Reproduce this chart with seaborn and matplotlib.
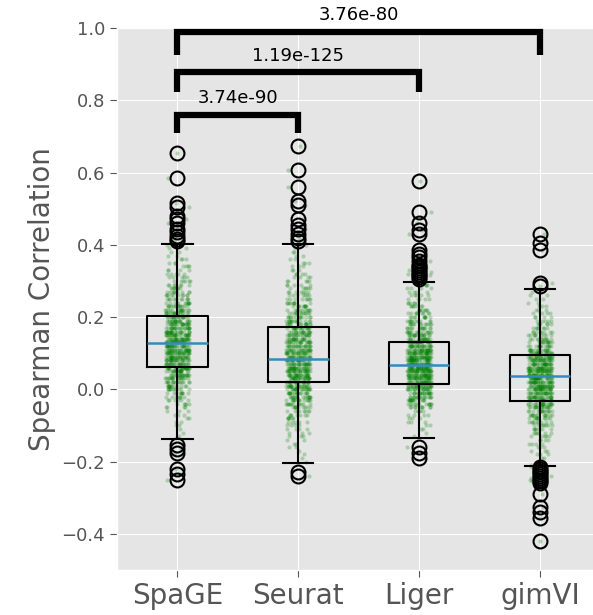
import numpy as np
import pandas as pd
import matplotlib
matplotlib.use("Agg")
import matplotlib.pyplot as plt
import seaborn as sns

# methods on the x axis
methods = ["SpaGE", "Seurat", "Liger", "gimVI"]

# box summaries
q1 = [0.061, 0.021, 0.015, -0.031]
med = [0.127, 0.085, 0.068, 0.037]
q3 = [0.202, 0.173, 0.132, 0.095]
whis_lo = [-0.137, -0.204, -0.134, -0.212]
whis_hi = [0.403, 0.403, 0.298, 0.279]

# outliers (circles)
fliers_spage = [0.655, 0.585, 0.515, 0.505, 0.48, 0.47, 0.46, 0.445, 0.435, 0.425,
                0.415, 0.41, -0.155, -0.165, -0.175, -0.22, -0.235, -0.25]
fliers_seurat = [0.672, 0.607, 0.56, 0.52, 0.51, 0.47, 0.455, 0.445, 0.43, 0.42,
                 0.41, -0.228, -0.24]
fliers_liger = [0.576, 0.49, 0.46, 0.44, 0.43, 0.385, 0.375, 0.365, 0.355, 0.345,
                0.34, 0.335, 0.33, 0.325, 0.32, 0.315, 0.31, 0.305,
                -0.16, -0.175, -0.19]
fliers_gimvi = [0.43, 0.405, 0.385, 0.295, 0.285, -0.215, -0.22, -0.225, -0.23,
                -0.235, -0.24, -0.245, -0.25, -0.255, -0.26, -0.29, -0.325,
                -0.34, -0.355, -0.42]

# estimated number of genes per 0.01 bin (non-outlier points), starting at bin_start
bin_start = [-0.13, -0.20, -0.13, -0.21]
counts_spage = [1, 1, 1, 2, 2, 2, 3, 3, 4, 5, 6, 7, 9, 11, 13, 15, 17, 19, 21, 23,
                25, 26, 27, 28, 28, 28, 28, 27, 26, 25, 23, 22, 20, 18, 17, 15, 14, 12,
                11, 10, 9, 8, 7, 6, 5, 5, 4, 4, 3, 3, 2, 2, 2, 1]
counts_seurat = [1, 1, 1, 1, 2, 2, 2, 3, 3, 4, 4, 5, 6, 7, 8, 10, 12, 14, 16, 18,
                 20, 22, 24, 25, 26, 27, 27, 27, 26, 25, 24, 23, 22, 21, 20, 19, 18,
                 17, 15, 14, 13, 12, 11, 10, 9, 8, 7, 7, 6, 5, 5, 4, 4, 3, 3, 3, 2,
                 2, 2, 1, 1]
counts_liger = [1, 1, 2, 2, 3, 3, 4, 5, 9, 12, 15, 18, 21, 21, 25, 28, 31, 33, 35,
                36, 36, 35, 33, 31, 29, 26, 23, 20, 18, 16, 14, 12, 11, 10, 9, 8, 7,
                6, 5, 5, 4, 4, 3]
counts_gimvi = [2, 2, 2, 3, 3, 3, 4, 4, 5, 6, 7, 8, 9, 11, 13, 15, 17, 20, 22, 25,
                27, 29, 31, 32, 33, 33, 32, 31, 29, 27, 24, 21, 18, 15, 13, 11, 9, 8,
                7, 6, 5, 4, 4, 3, 3, 2, 2, 2, 1]

# significance brackets: (left method, right method, height, drop, p-value label)
pairs = [(0, 3, 0.99, 0.065, "3.76e-80"),
         (0, 2, 0.877, 0.055, "1.19e-125"),
         (0, 1, 0.76, 0.05, "3.74e-90")]

all_counts = [counts_spage, counts_seurat, counts_liger, counts_gimvi]
all_fliers = [fliers_spage, fliers_seurat, fliers_liger, fliers_gimvi]

frames = []
for name, start, cnt, fl in zip(methods, bin_start, all_counts, all_fliers):
    centers = np.round(start + 0.01 * np.arange(len(cnt)), 3)
    vals = np.concatenate([np.repeat(centers, cnt), np.array(fl)])
    frames.append(pd.DataFrame({"method": name, "corr": vals}))
df = pd.concat(frames, ignore_index=True)

plt.style.use("ggplot")
fig = plt.figure(figsize=(5.93, 6.15), dpi=100)
ax = fig.add_axes([0.1973, 0.0732, 0.8153, 0.8813])

stats = []
for i, name in enumerate(methods):
    stats.append({"label": name, "med": med[i], "q1": q1[i], "q3": q3[i],
                  "whislo": whis_lo[i], "whishi": whis_hi[i],
                  "fliers": all_fliers[i]})

np.random.seed(0)
sns.stripplot(data=df, x="method", y="corr", order=methods, ax=ax, color="green",
              alpha=0.25, size=3.0, jitter=0.1, linewidth=0, zorder=2)

ax.bxp(stats, positions=range(len(methods)), widths=0.5,
       boxprops=dict(color="black", linewidth=1.5),
       whiskerprops=dict(color="black", linewidth=1.5),
       capprops=dict(color="black", linewidth=1.5),
       medianprops=dict(color="#348ABD", linewidth=1.8),
       flierprops=dict(marker="o", markerfacecolor="none", markeredgecolor="black",
                       markersize=10, markeredgewidth=1.5),
       zorder=3)

# brackets with p-values
for a, b, y, h, txt in pairs:
    ax.plot([a, a, b, b], [y - h, y, y, y - h], color="black", lw=4.5,
            solid_joinstyle="miter", solid_capstyle="butt", clip_on=False, zorder=4)
    ax.text((a + b) / 2, y + 0.02, txt, ha="center", va="bottom", fontsize=13,
            color="black")

ax.set_xlim(-0.5, 3.5)
ax.set_ylim(-0.5, 1.0)
ax.set_yticks([-0.4, -0.2, 0.0, 0.2, 0.4, 0.6, 0.8, 1.0])
ax.xaxis.grid(True)
ax.yaxis.grid(True)
ax.set_xlabel("")
ax.set_ylabel("Spearman Correlation", fontsize=20, color="#555555")
ax.tick_params(axis="x", labelsize=20, colors="#555555", length=5)
ax.tick_params(axis="y", labelsize=13, colors="#555555", length=5)

fig.savefig("out.png", dpi=100)
